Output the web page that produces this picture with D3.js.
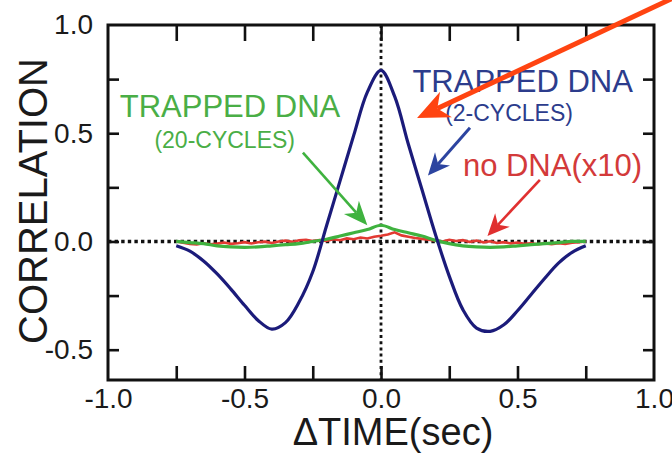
<!DOCTYPE html>
<html>
<head>
<meta charset="utf-8">
<script src="https://cdn.jsdelivr.net/npm/d3@7"></script>
<style>
  body { margin: 0; background: #fff; }
  svg { display: block; }
  text { font-family: "Liberation Sans", Arial, sans-serif; }
</style>
</head>
<body>
<svg id="chart" width="672" height="453"></svg>
<script>
// ---- data ----
const blueX = [-0.75, -0.70, -0.65, -0.60, -0.55, -0.50, -0.45, -0.40, -0.35, -0.30, -0.25, -0.20, -0.15, -0.10, -0.05, 0.00,
               0.05, 0.10, 0.15, 0.20, 0.25, 0.30, 0.35, 0.40, 0.45, 0.50, 0.55, 0.60, 0.65, 0.70, 0.75];
const blueY = [-0.02, -0.045, -0.09, -0.15, -0.22, -0.295, -0.365, -0.405, -0.375, -0.28, -0.14, 0.07, 0.28, 0.49, 0.69, 0.79,
               0.67, 0.45, 0.24, 0.03, -0.16, -0.315, -0.40, -0.415, -0.385, -0.32, -0.245, -0.17, -0.10, -0.05, -0.02];

const greenX = blueX;
const greenY = [0.00, -0.005, -0.01, -0.02, -0.025, -0.027, -0.025, -0.02, -0.015, -0.01, 0.00, 0.01, 0.025, 0.04, 0.055, 0.075,
                0.055, 0.04, 0.025, 0.005, -0.01, -0.02, -0.025, -0.027, -0.025, -0.02, -0.015, -0.01, -0.005, 0.00, 0.00];

const redX = d3.range(61).map(i => -0.75 + i * 0.025);
const redY = [0.0, -0.006, -0.012, -0.014, -0.008, -0.013, -0.01, -0.005, -0.011, -0.008, -0.003, -0.009, -0.004, -0.001, -0.007,
              0.0, 0.004, -0.002, 0.006, 0.008, 0.002, 0.007, 0.003, 0.01, 0.006, 0.014, 0.01, 0.018, 0.014, 0.022, 0.026,
              0.032, 0.042, 0.028, 0.022, 0.016, 0.012, 0.008, 0.004, 0.0, 0.008, 0.002, 0.006, -0.002, 0.004, -0.004,
              0.001, -0.007, -0.003, -0.009, -0.005, -0.011, -0.008, -0.013, -0.009, -0.013, -0.008, -0.011, -0.006, -0.004, 0.0];

const xTickLabels = [-1.0, -0.5, 0.0, 0.5, 1.0];
const xMinorTicks = [-0.75, -0.5, -0.25, 0, 0.25, 0.5, 0.75];
const yTickLabels = [1.0, 0.5, 0.0, -0.5];
const yMinorTicks = [0.75, 0.5, 0.25, 0, -0.25, -0.5];

// ---- layout ----
const svg = d3.select("#chart");
const x = d3.scaleLinear().domain([-1, 1]).range([108, 654]);
const y = d3.scaleLinear().domain([-0.64, 1.0]).range([380, 25]);
const yBottom = -0.64;

// dotted zero lines
svg.append("line")
  .attr("x1", x(-1)).attr("x2", x(1)).attr("y1", y(0)).attr("y2", y(0))
  .attr("stroke", "#111").attr("stroke-width", 3.4).attr("stroke-dasharray", "3.4,3.2");
svg.append("line")
  .attr("x1", x(0)).attr("x2", x(0)).attr("y1", y(1)).attr("y2", y(yBottom))
  .attr("stroke", "#111").attr("stroke-width", 2.8).attr("stroke-dasharray", "3,3.2");

// inward ticks
function ticks(axis, tr, size) {
  const g = svg.append("g").attr("transform", tr)
    .call(axis.tickSize(size).tickFormat(""));
  g.select(".domain").remove();
  g.selectAll(".tick line").attr("stroke", "#111").attr("stroke-width", 2.6);
}
ticks(d3.axisBottom(x).tickValues(xMinorTicks), `translate(0,${y(1)})`, 16);
ticks(d3.axisTop(x).tickValues(xMinorTicks), `translate(0,${y(yBottom)})`, 14);
ticks(d3.axisRight(y).tickValues(yMinorTicks), `translate(${x(-1)},0)`, 11);
ticks(d3.axisLeft(y).tickValues(yMinorTicks), `translate(${x(1)},0)`, 11);

// tick labels
const fmt = d3.format(".1f");
const xl = svg.append("g").attr("transform", `translate(0,${y(yBottom)})`)
  .call(d3.axisBottom(x).tickValues(xTickLabels).tickSize(0).tickPadding(8).tickFormat(d => fmt(d).replace("−", "-")));
xl.select(".domain").remove();
xl.selectAll("text").attr("font-size", 28).attr("fill", "#1a1a1a").attr("font-family", "Liberation Sans, Arial, sans-serif");

const yl = svg.append("g").attr("transform", `translate(${x(-1) - 15},0)`)
  .call(d3.axisLeft(y).tickValues(yTickLabels).tickSize(0).tickPadding(0).tickFormat(d => fmt(d).replace("−", "-")));
yl.select(".domain").remove();
yl.selectAll("text").attr("font-size", 28).attr("fill", "#1a1a1a").attr("font-family", "Liberation Sans, Arial, sans-serif");

// curves
const line = d3.line().x(d => x(d[0])).y(d => y(d[1]));
svg.append("path").datum(d3.zip(redX, redY)).attr("d", line.curve(d3.curveLinear))
  .attr("fill", "none").attr("stroke", "#e23a32").attr("stroke-width", 2.6);
svg.append("path").datum(d3.zip(greenX, greenY)).attr("d", line.curve(d3.curveMonotoneX))
  .attr("fill", "none").attr("stroke", "#3fb23f").attr("stroke-width", 3.2);
svg.append("path").datum(d3.zip(blueX, blueY)).attr("d", line.curve(d3.curveCatmullRom))
  .attr("fill", "none").attr("stroke", "#1b1b7a").attr("stroke-width", 3.2);

// frame
svg.append("rect")
  .attr("x", x(-1)).attr("y", y(1)).attr("width", x(1) - x(-1)).attr("height", y(yBottom) - y(1))
  .attr("fill", "none").attr("stroke", "#111").attr("stroke-width", 3);

// axis titles
svg.append("text").attr("x", 393).attr("y", 445).attr("text-anchor", "middle")
  .attr("font-size", 38).attr("fill", "#1a1a1a").text("ΔTIME(sec)");
svg.append("text").attr("transform", "translate(47,201) rotate(-90)").attr("text-anchor", "middle")
  .attr("font-size", 40).attr("fill", "#1a1a1a").text("CORRELATION");

// annotations
function arrow(x1, y1, x2, y2, color, w, len, half) {
  const p1 = [x(x1), y(y1)], p2 = [x(x2), y(y2)];
  const a = Math.atan2(p2[1] - p1[1], p2[0] - p1[0]);
  const ux = Math.cos(a), uy = Math.sin(a);
  const base = [p2[0] - ux * len, p2[1] - uy * len];
  const notch = [p2[0] - ux * len * 0.7, p2[1] - uy * len * 0.7];
  svg.append("line").attr("x1", p1[0]).attr("y1", p1[1]).attr("x2", notch[0]).attr("y2", notch[1])
    .attr("stroke", color).attr("stroke-width", w);
  const pts = [p2, [base[0] - uy * half, base[1] + ux * half], notch, [base[0] + uy * half, base[1] - ux * half]];
  svg.append("polygon").attr("points", pts.map(p => p.join(",")).join(" ")).attr("fill", color);
}
function label(xv, yv, txt, size, color) {
  svg.append("text").attr("x", x(xv)).attr("y", y(yv)).attr("font-size", size).attr("fill", color).text(txt);
}

label(-0.957, 0.575, "TRAPPED DNA", 31, "#4aae46");
label(-0.83, 0.43, "(20-CYCLES)", 23, "#4aae46");
arrow(-0.286, 0.41, -0.05, 0.075, "#3fb23f", 2.6, 24, 10);

label(0.115, 0.69, "TRAPPED DNA", 31, "#2c3c8c");
label(0.235, 0.555, "(2-CYCLES)", 23, "#2c3c8c");
arrow(0.326, 0.525, 0.172, 0.305, "#2c44a0", 3, 22, 10);

label(0.30, 0.303, "no DNA(x10)", 31, "#d33a3a");
arrow(0.582, 0.285, 0.39, 0.025, "#e03030", 2.6, 22, 10);

arrow(1.13, 1.16, 0.132, 0.57, "#ff4411", 5, 32, 14);
</script>
</body>
</html>
